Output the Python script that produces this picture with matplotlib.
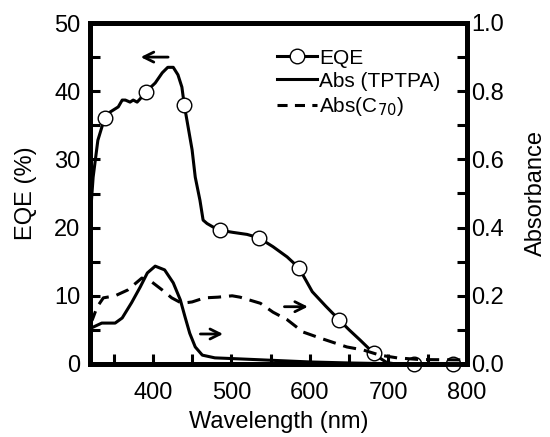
import matplotlib
matplotlib.use("Agg")
import matplotlib.pyplot as plt
from matplotlib.lines import Line2D
from matplotlib.ticker import MultipleLocator, FormatStrFormatter

plt.rcParams['font.family'] = ['Liberation Sans', 'DejaVu Sans']

# EQE continuous curve (wavelength nm, EQE %)
eqe_wl = [320, 324, 330, 335, 339, 345, 356, 361, 365, 371, 375, 380, 384, 391,
          403, 412, 419, 426, 432, 437, 440, 445, 450, 454, 460, 464, 469, 478,
          486, 502, 520, 535, 553, 571, 586, 603, 620, 637, 650, 664, 681, 690,
          698, 710, 800]
eqe_val = [21.0, 27.4, 32.8, 34.7, 36.1, 36.9, 37.7, 38.7, 38.7, 38.4, 38.7, 38.4, 38.9, 39.9,
           41.2, 42.7, 43.5, 43.5, 42.4, 40.6, 38.0, 34.7, 31.4, 27.4, 24.0, 21.1, 20.6, 20.0,
           19.6, 19.3, 19.0, 18.5, 17.2, 15.7, 14.1, 10.6, 8.5, 6.5, 5.0, 3.5, 1.6, 0.8,
           0.2, 0.0, 0.0]

# EQE markers
mk_wl = [339, 391, 440, 486, 535, 586, 637, 681, 732, 782]
mk_val = [36.1, 39.9, 38.0, 19.6, 18.5, 14.1, 6.5, 1.6, 0.0, 0.0]

# Absorbance TPTPA
tp_wl = [320, 322, 335, 352, 361, 373, 384, 393, 403, 415, 426, 435, 441, 447, 454,
         463, 479, 500, 530, 560, 600, 650, 700, 800]
tp_abs = [0.10, 0.106, 0.12, 0.12, 0.135, 0.18, 0.226, 0.267, 0.287, 0.276, 0.238, 0.188,
          0.138, 0.09, 0.05, 0.026, 0.018, 0.016, 0.013, 0.010, 0.006, 0.003, 0.001, 0.0]

# Absorbance C70
c70_wl = [320, 323, 329, 337, 352, 368, 386, 399, 412, 424, 437, 450, 466, 483, 501,
          511, 537, 553, 571, 591, 613, 647, 668, 689, 711, 740, 800]
c70_abs = [0.12, 0.13, 0.167, 0.194, 0.20, 0.217, 0.252, 0.24, 0.217, 0.194, 0.178, 0.182,
           0.194, 0.196, 0.20, 0.196, 0.178, 0.152, 0.13, 0.094, 0.076, 0.05, 0.041, 0.026,
           0.018, 0.013, 0.012]

W, H = 550, 437
fig = plt.figure(figsize=(W / 100, H / 100), dpi=100)
rect = [90 / W, (H - 364) / H, 377 / W, 341 / H]
ax = fig.add_axes(rect)
ax2 = ax.twinx()
ax2.set_position(rect)

lw = 2.2
ax.plot(eqe_wl, eqe_val, color='black', lw=lw, zorder=3)
ax.plot(mk_wl, mk_val, linestyle='none', marker='o', markersize=10.5,
        markerfacecolor='white', markeredgecolor='black', markeredgewidth=1.0,
        zorder=4, clip_on=False)
ax2.plot(tp_wl, tp_abs, color='black', lw=lw)
l_c70, = ax2.plot(c70_wl, c70_abs, color='black', lw=lw)
l_c70.set_dashes([4.3, 2.6])

ax.set_xlim(320, 800)
ax.set_ylim(0, 50)
ax2.set_ylim(0, 1.0)

ax.xaxis.set_major_locator(MultipleLocator(100))
ax.xaxis.set_minor_locator(MultipleLocator(50))
ax.yaxis.set_major_locator(MultipleLocator(10))
ax.yaxis.set_minor_locator(MultipleLocator(5))
ax2.yaxis.set_major_locator(MultipleLocator(0.2))
ax2.yaxis.set_minor_locator(MultipleLocator(0.1))
ax2.yaxis.set_major_formatter(FormatStrFormatter('%.1f'))

fs = 17
for a in (ax, ax2):
    for s in a.spines.values():
        s.set_linewidth(3.5)
ax.tick_params(axis='both', which='both', direction='in', width=2.2, length=7,
               labelsize=fs, top=False, right=False)
ax.tick_params(axis='y', pad=7)
ax.tick_params(axis='x', pad=13)
ax2.tick_params(axis='y', which='both', direction='in', width=2.2, length=7,
                labelsize=fs, pad=3)

ax.set_xlabel('Wavelength (nm)', fontsize=fs)
ax.set_ylabel('EQE (%)', fontsize=fs)
ax2.set_ylabel('Absorbance', fontsize=fs)
ax.xaxis.set_label_coords(0.5, -0.138)
ax.yaxis.set_label_coords(-0.14, 0.5)
ax2.yaxis.set_label_coords(1.155, 0.5)

# Direction arrows
ax.annotate('', xy=(381, 45), xytext=(423, 45),
            arrowprops=dict(arrowstyle='->', lw=2.0, color='black', mutation_scale=18))
ax2.annotate('', xy=(493, 0.088), xytext=(457, 0.088),
             arrowprops=dict(arrowstyle='->', lw=2.0, color='black', mutation_scale=18))
ax2.annotate('', xy=(601, 0.168), xytext=(564, 0.168),
             arrowprops=dict(arrowstyle='->', lw=2.0, color='black', mutation_scale=18))

handles = [
    Line2D([], [], color='black', lw=lw, marker='o', markersize=10.5,
           markerfacecolor='white', markeredgecolor='black', markeredgewidth=1.0),
    Line2D([], [], color='black', lw=lw),
    Line2D([], [], color='black', lw=lw, dashes=[3.3, 2.4]),
]
labels = ['EQE', 'Abs (TPTPA)', 'Abs(C$_{70}$)']
leg = ax2.legend(handles, labels, loc='upper left', bbox_to_anchor=(0.495, 0.925),
                 frameon=False, fontsize=15, handlelength=1.95, handletextpad=0.1,
                 labelspacing=0.2, borderaxespad=0, borderpad=0)

fig.savefig('out.png', dpi=100)
